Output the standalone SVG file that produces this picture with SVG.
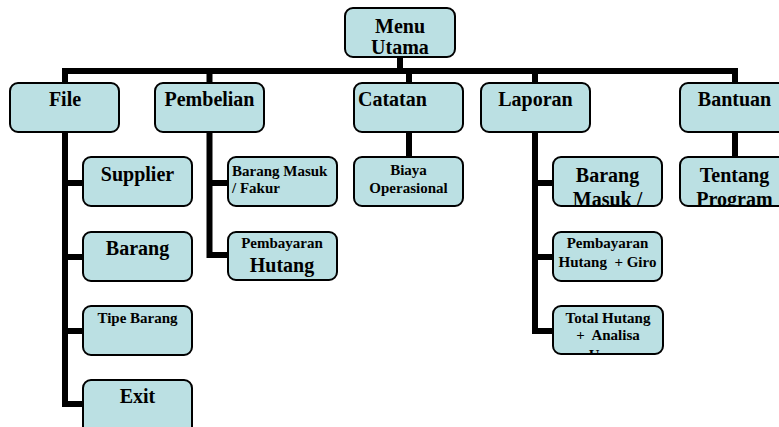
<svg xmlns="http://www.w3.org/2000/svg" width="779" height="427" viewBox="0 0 779 427">
<style>
.box{fill:#BBE0E3;stroke:#000;stroke-width:2}
.con{fill:none;stroke:#000;stroke-width:6;stroke-linejoin:miter;stroke-linecap:butt}
text{font-family:"Liberation Serif","Times New Roman",serif;font-weight:bold;fill:#000}
.L{font-size:20px}
.S{font-size:15px}
.c{text-anchor:middle}
</style>
<defs>
<clipPath id="cpLapBM"><rect x="553" y="157" width="109" height="49"/></clipPath>
<clipPath id="cpTP"><rect x="680" y="157" width="109" height="49"/></clipPath>
<clipPath id="cpTH"><rect x="553" y="306" width="110" height="48"/></clipPath>
</defs>
<rect width="779" height="427" fill="#fff"/>
<g id="connectors">
<path class="con" d="M400,57 V71"/>
<path class="con" d="M65,83 V71 H735 V83"/>
<path class="con" d="M209.5,71 V83"/>
<path class="con" d="M409,71 V83"/>
<path class="con" d="M535,71 V83"/>
<path class="con" d="M65,132 V404 H84"/>
<path class="con" d="M65,183 H84"/>
<path class="con" d="M65,257 H84"/>
<path class="con" d="M65,331 H84"/>
<path class="con" d="M209.5,132 V255 H228"/>
<path class="con" d="M209.5,183 H228"/>
<path class="con" d="M409,132 V157"/>
<path class="con" d="M535,132 V331 H553"/>
<path class="con" d="M535,183 H553"/>
<path class="con" d="M535,257 H553"/>
<path class="con" d="M735,132 V157"/>
</g>
<g id="menu-utama">
<rect class="box" x="345" y="8" width="110" height="49" rx="8"/>
<text class="L c" x="400" y="33">Menu</text>
<text class="L c" x="400" y="54">Utama</text>
</g>
<g id="file">
<rect class="box" x="10" y="83" width="109" height="49" rx="8"/>
<text class="L c" x="65" y="106">File</text>
</g>
<g id="pembelian">
<rect class="box" x="155" y="83" width="109" height="49" rx="8"/>
<text class="L c" x="209.5" y="106">Pembelian</text>
</g>
<g id="catatan">
<rect class="box" x="354" y="83" width="109" height="49" rx="8"/>
<text class="L" x="358" y="106">Catatan</text>
</g>
<g id="laporan">
<rect class="box" x="481" y="83" width="109" height="49" rx="8"/>
<text class="L c" x="535.5" y="106">Laporan</text>
</g>
<g id="bantuan">
<rect class="box" x="680" y="83" width="109" height="49" rx="8"/>
<text class="L c" x="734.5" y="106">Bantuan</text>
</g>
<g id="supplier">
<rect class="box" x="83" y="157" width="109" height="49" rx="8"/>
<text class="L c" x="137.5" y="181">Supplier</text>
</g>
<g id="barang">
<rect class="box" x="83" y="232" width="109" height="49" rx="8"/>
<text class="L c" x="137.5" y="255">Barang</text>
</g>
<g id="tipe-barang">
<rect class="box" x="83" y="306" width="109" height="49" rx="8"/>
<text class="S c" x="137.5" y="323">Tipe Barang</text>
</g>
<g id="exit">
<rect class="box" x="83" y="380" width="109" height="60" rx="8"/>
<text class="L c" x="137.5" y="403">Exit</text>
</g>
<g id="barang-masuk-fakur">
<rect class="box" x="228" y="157" width="109" height="49" rx="8"/>
<text class="S" x="232" y="176">Barang Masuk</text>
<text class="S" x="232" y="193">/ Fakur</text>
</g>
<g id="pembayaran-hutang">
<rect class="box" x="228" y="232" width="109" height="48" rx="8"/>
<text class="S c" x="282" y="248">Pembayaran</text>
<text class="L c" x="282" y="272">Hutang</text>
</g>
<g id="biaya-operasional">
<rect class="box" x="354" y="157" width="109" height="49" rx="8"/>
<text class="S c" x="408.5" y="175">Biaya</text>
<text class="S c" x="408.5" y="193">Operasional</text>
</g>
<g id="lap-barang-masuk">
<rect class="box" x="553" y="157" width="109" height="49" rx="8"/>
<g clip-path="url(#cpLapBM)">
<text class="L c" x="607.5" y="182">Barang</text>
<text class="L c" x="607.5" y="205.5">Masuk /</text>
</g>
</g>
<g id="lap-pembayaran-hutang-giro">
<rect class="box" x="553" y="232" width="109" height="49" rx="8"/>
<text class="S c" x="607.5" y="248">Pembayaran</text>
<text class="S c" x="607.5" y="267" xml:space="preserve">Hutang  + Giro</text>
</g>
<g id="lap-total-hutang">
<rect class="box" x="553" y="306" width="110" height="48" rx="8"/>
<g clip-path="url(#cpTH)">
<text class="S c" x="608" y="323">Total Hutang</text>
<text class="S c" x="608" y="340" xml:space="preserve">+  Analisa</text>
<text class="S c" x="608" y="360">Umur</text>
</g>
</g>
<g id="tentang-program">
<rect class="box" x="680" y="157" width="109" height="49" rx="8"/>
<g clip-path="url(#cpTP)">
<text class="L c" x="734.5" y="182">Tentang</text>
<text class="L c" x="734.5" y="205.5">Program</text>
</g>
</g>
</svg>
